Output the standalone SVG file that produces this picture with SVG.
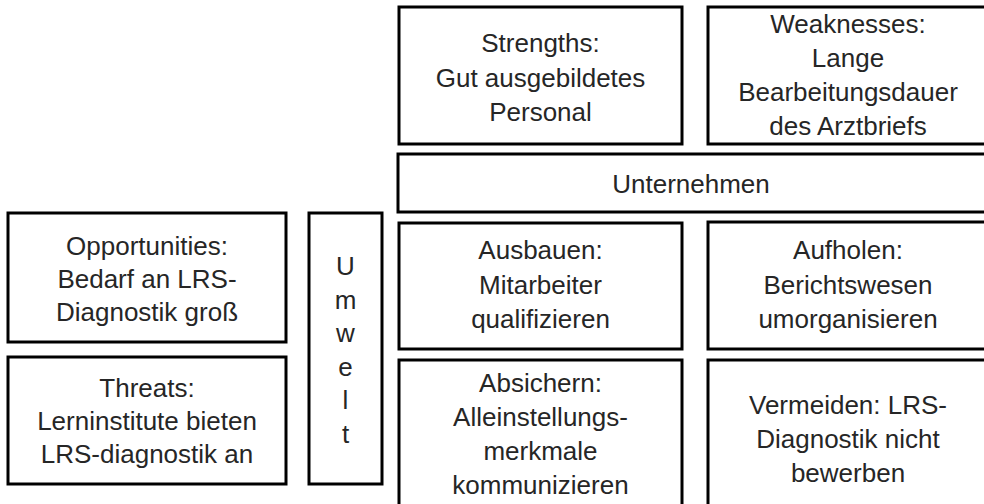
<svg xmlns="http://www.w3.org/2000/svg" width="984" height="504" viewBox="0 0 984 504">
<style>
.box{fill:#ffffff;stroke:#000000;stroke-width:3}
.t{font-family:"Liberation Sans",Arial,sans-serif;font-size:26px;fill:#262626;text-anchor:middle}
</style>
<rect width="984" height="504" fill="#ffffff"/>
<g id="strengths">
<rect class="box" x="399" y="7" width="283" height="137"/>
<text class="t" x="540.5" y="52">Strengths:</text>
<text class="t" x="540.5" y="87">Gut ausgebildetes</text>
<text class="t" x="540.5" y="121">Personal</text>
</g>
<g id="weaknesses">
<rect class="box" x="708" y="7" width="282" height="137"/>
<text class="t" x="848" y="33">Weaknesses:</text>
<text class="t" x="848" y="67">Lange</text>
<text class="t" x="848" y="101">Bearbeitungsdauer</text>
<text class="t" x="848" y="135">des Arztbriefs</text>
</g>
<g id="unternehmen">
<rect class="box" x="398" y="154" width="592" height="58"/>
<text class="t" x="691" y="193">Unternehmen</text>
</g>
<g id="ausbauen">
<rect class="box" x="399" y="223" width="283" height="126"/>
<text class="t" x="540.5" y="259">Ausbauen:</text>
<text class="t" x="540.5" y="294">Mitarbeiter</text>
<text class="t" x="540.5" y="328">qualifizieren</text>
</g>
<g id="aufholen">
<rect class="box" x="708" y="222" width="282" height="127"/>
<text class="t" x="848" y="259">Aufholen:</text>
<text class="t" x="848" y="294">Berichtswesen</text>
<text class="t" x="848" y="328">umorganisieren</text>
</g>
<g id="absichern">
<rect class="box" x="399" y="360" width="283" height="160"/>
<text class="t" x="540.5" y="392">Absichern:</text>
<text class="t" x="540.5" y="426">Alleinstellungs-</text>
<text class="t" x="540.5" y="460">merkmale</text>
<text class="t" x="540.5" y="494">kommunizieren</text>
</g>
<g id="vermeiden">
<rect class="box" x="708" y="360" width="282" height="160"/>
<text class="t" x="848" y="414">Vermeiden: LRS-</text>
<text class="t" x="848" y="448">Diagnostik nicht</text>
<text class="t" x="848" y="482">bewerben</text>
</g>
<g id="opportunities">
<rect class="box" x="8" y="213" width="278" height="129"/>
<text class="t" x="147" y="255">Opportunities:</text>
<text class="t" x="147" y="288">Bedarf an LRS-</text>
<text class="t" x="147" y="321">Diagnostik groß</text>
</g>
<g id="threats">
<rect class="box" x="8" y="357" width="278" height="127"/>
<text class="t" x="147" y="397">Threats:</text>
<text class="t" x="147" y="430">Lerninstitute bieten</text>
<text class="t" x="147" y="463">LRS-diagnostik an</text>
</g>
<g id="umwelt">
<rect class="box" x="309" y="213" width="73" height="271"/>
<text class="t" x="345.5" y="275">U</text>
<text class="t" x="345.5" y="308.5">m</text>
<text class="t" x="345.5" y="342">w</text>
<text class="t" x="345.5" y="375.5">e</text>
<text class="t" x="345.5" y="409">l</text>
<text class="t" x="345.5" y="442.5">t</text>
</g>
<g id="connectors"></g>
</svg>
